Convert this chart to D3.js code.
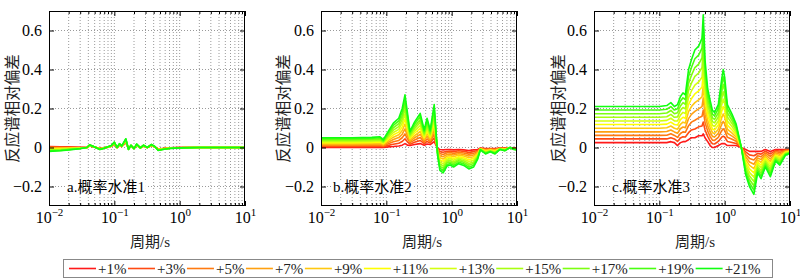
<!DOCTYPE html>
<html><head><meta charset="utf-8">
<script src="https://cdn.jsdelivr.net/npm/d3@7/dist/d3.min.js"></script>
<style>body{margin:0;background:#fff}</style>
</head><body><svg id="chart" width="800" height="279"></svg>
<script>
// ---------- data ----------
const seriesNames = ["+1%","+3%","+5%","+7%","+9%","+11%","+13%","+15%","+17%","+19%","+21%"];
const colors = ["#ff1a1a","#ff4a12","#ff7a10","#ffa010","#ffc810","#ffff00","#d4ff10","#a8ff10","#7cff10","#48ff10","#10ff10"];

const xTicks = [0.01, 0.1, 1, 10];
const xTickExp = ["\u22122", "\u22121", "0", "1"];
const yTicks = [-0.2, 0, 0.2, 0.4, 0.6];
const panelLabels = ["a.概率水准1", "b.概率水准2", "c.概率水准3"];
const yLabelText = "反应谱相对偏差";
const xLabelText = "周期/s";

// panel a
const periodsA = [0.01,0.015,0.02,0.03,0.038,0.042,0.05,0.06,0.07,0.08,0.09,0.1,0.11,0.12,0.13,0.15,0.165,0.18,0.2,0.22,0.25,0.28,0.32,0.37,0.42,0.47,0.55,0.7,1.0,2,4,10];
const a01 = [0.005,0.004,0.003,0.001,0,0.008,0.002,-0.005,-0.002,0.002,0.006,0.016,0,0.012,0.005,0.025,-0.005,0.007,-0.003,0.01,-0.001,0.007,0,0.009,0.002,-0.008,-0.005,-0.002,0,0,0,0];
const a03 = [0.003,0.002,0.001,0,0,0.009,0.002,-0.006,-0.002,0.002,0.006,0.017,0,0.013,0.005,0.027,-0.006,0.008,-0.003,0.011,-0.001,0.008,0,0.01,0.002,-0.009,-0.006,-0.002,0,0,0,0];
const a05 = [0,0,0,0,0,0.009,0.002,-0.006,-0.002,0.002,0.007,0.018,0,0.014,0.006,0.029,-0.006,0.008,-0.004,0.012,-0.001,0.008,0,0.01,0.002,-0.009,-0.006,-0.003,0,0,0,0];
const a07 = [-0.003,-0.002,-0.002,-0.001,0,0.01,0.002,-0.007,-0.003,0.003,0.007,0.02,0,0.014,0.006,0.031,-0.007,0.009,-0.004,0.012,-0.001,0.009,0,0.011,0.003,-0.01,-0.007,-0.003,-0.001,0,0,0];
const a09 = [-0.005,-0.004,-0.003,-0.002,0,0.01,0.002,-0.007,-0.003,0.003,0.008,0.021,0,0.015,0.006,0.033,-0.007,0.009,-0.004,0.013,-0.001,0.009,0,0.012,0.003,-0.011,-0.007,-0.003,-0.001,0,0,0];
const a11 = [-0.008,-0.007,-0.005,-0.003,0,0.011,0.003,-0.008,-0.003,0.003,0.008,0.022,0,0.016,0.007,0.035,-0.008,0.01,-0.005,0.014,-0.002,0.01,0,0.013,0.003,-0.012,-0.008,-0.004,-0.001,0,0,0];
const a13 = [-0.01,-0.009,-0.007,-0.003,0,0.012,0.003,-0.008,-0.003,0.003,0.008,0.023,0,0.017,0.007,0.037,-0.008,0.01,-0.005,0.015,-0.002,0.01,0,0.013,0.003,-0.012,-0.008,-0.004,-0.001,0,0,0];
const a15 = [-0.013,-0.011,-0.008,-0.004,0,0.012,0.003,-0.009,-0.003,0.003,0.009,0.024,0,0.018,0.007,0.039,-0.009,0.011,-0.005,0.016,-0.002,0.011,0,0.014,0.003,-0.013,-0.009,-0.004,-0.001,0,0,0];
const a17 = [-0.015,-0.013,-0.01,-0.005,0,0.013,0.003,-0.009,-0.004,0.004,0.009,0.026,0,0.018,0.007,0.041,-0.009,0.011,-0.005,0.016,-0.002,0.011,0,0.015,0.004,-0.014,-0.009,-0.004,-0.002,0,0,0];
const a19 = [-0.018,-0.015,-0.011,-0.005,0,0.013,0.003,-0.01,-0.004,0.004,0.01,0.027,0,0.019,0.008,0.043,-0.01,0.012,-0.006,0.017,-0.002,0.012,0,0.015,0.004,-0.014,-0.01,-0.005,-0.002,0,0,0];
const a21 = [-0.02,-0.017,-0.013,-0.006,0,0.014,0.003,-0.01,-0.004,0.004,0.01,0.028,0,0.02,0.008,0.045,-0.01,0.012,-0.006,0.018,-0.002,0.012,0,0.016,0.004,-0.015,-0.01,-0.005,-0.002,0,0,0];

// panel b
const periodsB = [0.01,0.03,0.06,0.08,0.09,0.107,0.128,0.155,0.175,0.193,0.21,0.23,0.27,0.33,0.38,0.42,0.47,0.54,0.61,0.66,0.74,0.85,0.95,1.07,1.28,1.53,1.83,2.17,2.5,2.75,3.3,3.9,4.6,5.5,6.5,7.8,8.9,10];
const b01 = [0,0,0,0,0,0.003,0.005,0.008,0.012,0.02,0.012,0.01,0.015,0.02,0.012,0.018,0.015,0.03,-0.005,-0.01,-0.012,-0.01,-0.01,-0.012,-0.01,-0.012,-0.015,-0.012,-0.01,-0.003,-0.005,-0.005,-0.005,-0.003,-0.003,-0.002,-0.003,-0.003];
const b03 = [0.005,0.005,0.005,0.006,0.004,0.011,0.017,0.022,0.031,0.045,0.029,0.017,0.027,0.036,0.02,0.031,0.023,0.049,-0.009,-0.021,-0.024,-0.019,-0.018,-0.021,-0.017,-0.02,-0.025,-0.021,-0.015,-0.004,-0.008,-0.007,-0.008,-0.004,-0.004,-0.002,-0.004,-0.004];
const b05 = [0.01,0.01,0.01,0.011,0.008,0.019,0.029,0.036,0.05,0.07,0.046,0.025,0.038,0.051,0.028,0.044,0.03,0.068,-0.012,-0.031,-0.036,-0.027,-0.026,-0.03,-0.025,-0.028,-0.034,-0.03,-0.02,-0.005,-0.011,-0.008,-0.011,-0.004,-0.006,-0.002,-0.004,-0.005];
const b07 = [0.015,0.015,0.016,0.017,0.012,0.027,0.041,0.051,0.068,0.095,0.062,0.032,0.05,0.067,0.035,0.058,0.038,0.087,-0.016,-0.042,-0.047,-0.036,-0.034,-0.038,-0.032,-0.036,-0.044,-0.038,-0.025,-0.006,-0.013,-0.01,-0.013,-0.005,-0.007,-0.001,-0.005,-0.006];
const b09 = [0.02,0.02,0.021,0.022,0.016,0.035,0.053,0.065,0.087,0.12,0.079,0.039,0.061,0.082,0.043,0.071,0.045,0.106,-0.019,-0.053,-0.059,-0.044,-0.042,-0.047,-0.039,-0.044,-0.053,-0.047,-0.03,-0.007,-0.016,-0.012,-0.016,-0.006,-0.009,-0.001,-0.006,-0.007];
const b11 = [0.025,0.025,0.026,0.028,0.02,0.043,0.065,0.079,0.106,0.145,0.096,0.047,0.073,0.098,0.051,0.084,0.053,0.125,-0.023,-0.064,-0.071,-0.053,-0.05,-0.056,-0.047,-0.052,-0.063,-0.056,-0.035,-0.008,-0.019,-0.014,-0.019,-0.007,-0.01,-0.001,-0.007,-0.008];
const b13 = [0.03,0.03,0.031,0.033,0.024,0.051,0.077,0.093,0.125,0.17,0.113,0.054,0.084,0.113,0.059,0.097,0.06,0.144,-0.026,-0.074,-0.083,-0.061,-0.058,-0.065,-0.054,-0.06,-0.072,-0.065,-0.04,-0.008,-0.022,-0.015,-0.022,-0.007,-0.011,-0.001,-0.007,-0.008];
const b15 = [0.035,0.035,0.036,0.039,0.028,0.059,0.089,0.107,0.144,0.195,0.13,0.061,0.096,0.129,0.067,0.11,0.068,0.163,-0.03,-0.085,-0.095,-0.07,-0.066,-0.074,-0.061,-0.068,-0.082,-0.074,-0.045,-0.009,-0.025,-0.017,-0.025,-0.008,-0.013,-0.001,-0.008,-0.009];
const b17 = [0.04,0.04,0.042,0.044,0.032,0.067,0.101,0.122,0.162,0.22,0.146,0.068,0.107,0.144,0.074,0.124,0.075,0.182,-0.033,-0.096,-0.106,-0.078,-0.074,-0.082,-0.068,-0.076,-0.091,-0.082,-0.05,-0.01,-0.027,-0.019,-0.027,-0.009,-0.014,0,-0.009,-0.01];
const b19 = [0.045,0.045,0.047,0.05,0.036,0.075,0.113,0.136,0.181,0.245,0.163,0.076,0.119,0.16,0.082,0.137,0.083,0.201,-0.037,-0.106,-0.118,-0.087,-0.082,-0.091,-0.076,-0.084,-0.101,-0.091,-0.055,-0.011,-0.03,-0.02,-0.03,-0.009,-0.016,0,-0.009,-0.011];
const b21 = [0.05,0.05,0.052,0.055,0.04,0.083,0.125,0.15,0.2,0.27,0.18,0.083,0.13,0.175,0.09,0.15,0.09,0.22,-0.04,-0.117,-0.13,-0.095,-0.09,-0.1,-0.083,-0.092,-0.11,-0.1,-0.06,-0.012,-0.033,-0.022,-0.033,-0.01,-0.017,0,-0.01,-0.012];

// panel c
const periodsC = [0.01,0.05,0.1,0.13,0.15,0.17,0.19,0.21,0.23,0.25,0.28,0.31,0.35,0.4,0.45,0.47,0.5,0.55,0.6,0.65,0.7,0.8,0.9,0.95,1.0,1.1,1.3,1.5,1.8,2.1,2.4,2.8,3.2,3.6,4.2,5,6,7,8.5,10];
const c01 = [0.025,0.025,0.025,0.025,0.03,0.025,0.01,0.025,0.03,0.03,0.04,0.05,0.05,0.06,0.06,0.07,0.05,0.03,0.01,0,0,0.01,0.02,0.02,0.02,0.01,0.01,0.01,0,-0.01,-0.02,-0.02,-0.02,-0.02,-0.01,-0.02,-0.01,-0.01,-0.01,-0.01];
const c03 = [0.044,0.044,0.044,0.044,0.05,0.044,0.031,0.049,0.055,0.054,0.076,0.09,0.095,0.106,0.11,0.131,0.09,0.057,0.033,0.019,0.018,0.031,0.053,0.058,0.054,0.031,0.026,0.021,0,-0.023,-0.038,-0.042,-0.031,-0.034,-0.019,-0.033,-0.016,-0.018,-0.013,-0.012];
const c05 = [0.062,0.062,0.062,0.063,0.07,0.062,0.052,0.072,0.08,0.078,0.112,0.13,0.14,0.152,0.16,0.192,0.13,0.084,0.056,0.038,0.036,0.052,0.086,0.096,0.088,0.052,0.042,0.032,0,-0.036,-0.056,-0.064,-0.042,-0.048,-0.028,-0.046,-0.022,-0.026,-0.016,-0.014];
const c07 = [0.08,0.08,0.08,0.082,0.09,0.08,0.073,0.096,0.105,0.102,0.148,0.17,0.185,0.198,0.21,0.253,0.17,0.111,0.079,0.057,0.054,0.073,0.119,0.134,0.122,0.073,0.058,0.043,0,-0.049,-0.074,-0.086,-0.053,-0.062,-0.037,-0.059,-0.028,-0.034,-0.019,-0.016];
const c09 = [0.099,0.099,0.099,0.101,0.11,0.099,0.094,0.119,0.13,0.126,0.184,0.21,0.23,0.244,0.26,0.314,0.21,0.138,0.102,0.076,0.072,0.094,0.152,0.172,0.156,0.094,0.074,0.054,0,-0.062,-0.092,-0.108,-0.064,-0.076,-0.046,-0.072,-0.034,-0.042,-0.022,-0.018];
const c11 = [0.118,0.118,0.118,0.12,0.13,0.118,0.115,0.143,0.155,0.15,0.22,0.25,0.275,0.29,0.31,0.375,0.25,0.165,0.125,0.095,0.09,0.115,0.185,0.21,0.19,0.115,0.09,0.065,0,-0.075,-0.11,-0.13,-0.075,-0.09,-0.055,-0.085,-0.04,-0.05,-0.025,-0.02];
const c13 = [0.136,0.136,0.136,0.139,0.15,0.136,0.136,0.166,0.18,0.174,0.256,0.29,0.32,0.336,0.36,0.436,0.29,0.192,0.148,0.114,0.108,0.136,0.218,0.248,0.224,0.136,0.106,0.076,0,-0.088,-0.128,-0.152,-0.086,-0.104,-0.064,-0.098,-0.046,-0.058,-0.028,-0.022];
const c15 = [0.155,0.155,0.155,0.158,0.17,0.155,0.157,0.19,0.205,0.198,0.292,0.33,0.365,0.382,0.41,0.497,0.33,0.219,0.171,0.133,0.126,0.157,0.251,0.286,0.258,0.157,0.122,0.087,0,-0.101,-0.146,-0.174,-0.097,-0.118,-0.073,-0.111,-0.052,-0.066,-0.031,-0.024];
const c17 = [0.173,0.173,0.173,0.177,0.19,0.173,0.178,0.213,0.23,0.222,0.328,0.37,0.41,0.428,0.46,0.558,0.37,0.246,0.194,0.152,0.144,0.178,0.284,0.324,0.292,0.178,0.138,0.098,0,-0.114,-0.164,-0.196,-0.108,-0.132,-0.082,-0.124,-0.058,-0.074,-0.034,-0.026];
const c19 = [0.192,0.192,0.192,0.196,0.21,0.192,0.199,0.237,0.255,0.246,0.364,0.41,0.455,0.474,0.51,0.619,0.41,0.273,0.217,0.171,0.162,0.199,0.317,0.362,0.326,0.199,0.154,0.109,0,-0.127,-0.182,-0.218,-0.119,-0.146,-0.091,-0.137,-0.064,-0.082,-0.037,-0.028];
const c21 = [0.21,0.21,0.21,0.215,0.23,0.21,0.22,0.26,0.28,0.27,0.4,0.45,0.5,0.52,0.56,0.68,0.45,0.3,0.24,0.19,0.18,0.22,0.35,0.4,0.36,0.22,0.17,0.12,0,-0.14,-0.2,-0.24,-0.13,-0.16,-0.1,-0.15,-0.07,-0.09,-0.04,-0.03];

const seriesA = [a01,a03,a05,a07,a09,a11,a13,a15,a17,a19,a21];
const seriesB = [b01,b03,b05,b07,b09,b11,b13,b15,b17,b19,b21];
const seriesC = [c01,c03,c05,c07,c09,c11,c13,c15,c17,c19,c21];

// ---------- layout ----------
const serif = "'Liberation Serif','Times New Roman',serif";
const mixed = "'Liberation Serif','Noto Sans CJK SC',serif";
const cjk = "'Noto Sans CJK SC',sans-serif";
const plotTop = 11, plotBottom = 206, plotW = 196;
const panels = [
  {left: 49,  periods: periodsA, series: seriesA, label: panelLabels[0], labelDx: 18, yLabX: 18},
  {left: 321, periods: periodsB, series: seriesB, label: panelLabels[1], labelDx: 12, yLabX: 289},
  {left: 594, periods: periodsC, series: seriesC, label: panelLabels[2], labelDx: 18, yLabX: 564}
];

const svg = d3.select("#chart");
svg.append("rect").attr("width", 800).attr("height", 279).attr("fill", "#fff");

const minorVals = [];
[0.01, 0.1, 1].forEach(dec => { for (let m = 2; m <= 9; m++) minorVals.push(m * dec); });
const gridX = minorVals.concat([0.1, 1]);

panels.forEach((p, pi) => {
  const x = d3.scaleLog().domain([0.01, 10]).range([p.left, p.left + plotW]);
  const y = d3.scaleLinear().domain([-0.3, 0.7]).range([plotBottom, plotTop]);
  const g = svg.append("g");

  // grid
  g.append("g").selectAll("line").data(gridX).join("line")
    .attr("x1", d => x(d)).attr("x2", d => x(d))
    .attr("y1", plotTop).attr("y2", plotBottom)
    .attr("stroke", "#9a9a9a").attr("stroke-width", 1).attr("stroke-dasharray", "1,2");
  g.append("g").selectAll("line").data(yTicks).join("line")
    .attr("x1", p.left).attr("x2", p.left + plotW)
    .attr("y1", d => y(d)).attr("y2", d => y(d))
    .attr("stroke", "#9a9a9a").attr("stroke-width", 1).attr("stroke-dasharray", "1,2");

  // lines
  const clipId = "clip" + pi;
  svg.append("clipPath").attr("id", clipId).append("rect")
    .attr("x", p.left).attr("y", plotTop).attr("width", plotW).attr("height", plotBottom - plotTop);
  const line = d3.line().x((d, i) => x(p.periods[i])).y(d => y(d));
  g.append("g").attr("clip-path", `url(#${clipId})`)
    .selectAll("path").data(p.series).join("path")
    .attr("d", d => line(d))
    .attr("fill", "none")
    .attr("stroke", (d, i) => colors[i])
    .attr("stroke-width", 1.6)
    .attr("stroke-linejoin", "round");

  // panel label with white background
  const labG = g.append("g");
  const labBg = labG.append("rect").attr("fill", "#fff");
  const lab = labG.append("text").attr("x", p.left + p.labelDx).attr("y", 192)
    .style("font-family", mixed).style("font-size", "15px").attr("fill", "#000").text(p.label);
  const bb = lab.node().getBBox();
  labBg.attr("x", bb.x - 1).attr("y", bb.y + 1).attr("width", bb.width + 2).attr("height", bb.height - 2);

  // axes (ticks inward)
  const styleAxis = sel => { sel.select(".domain").remove(); sel.selectAll(".tick line").attr("stroke", "#000"); };
  g.append("g").attr("transform", `translate(0,${plotBottom})`)
    .call(d3.axisBottom(x).tickValues(minorVals).tickSize(-3).tickFormat(() => "")).call(styleAxis);
  g.append("g").attr("transform", `translate(0,${plotTop})`)
    .call(d3.axisTop(x).tickValues(minorVals).tickSize(-3).tickFormat(() => "")).call(styleAxis);
  g.append("g").attr("transform", `translate(0,${plotTop})`)
    .call(d3.axisTop(x).tickValues(xTicks).tickSize(-5).tickFormat(() => "")).call(styleAxis);
  const xb = g.append("g").attr("transform", `translate(0,${plotBottom})`)
    .call(d3.axisBottom(x).tickValues(xTicks).tickSize(-5).tickFormat(() => "")).call(styleAxis);
  xb.selectAll(".tick text").remove();
  xb.selectAll(".tick").each(function(d, i) {
    const t = d3.select(this).append("text")
      .attr("y", 17).attr("fill", "#000")
      .attr("text-anchor", "middle")
      .style("font-family", serif).style("font-size", "16px");
    t.append("tspan").text("10");
    t.append("tspan").attr("dy", -7).style("font-size", "11px").text(xTickExp[i]);
  });

  const yl = g.append("g").attr("transform", `translate(${p.left},0)`)
    .call(d3.axisLeft(y).tickValues(yTicks).tickSize(-5).tickPadding(7)
      .tickFormat(d => d === 0 ? "0" : d3.format(".1f")(d).replace("-", "\u2212")))
    .call(styleAxis);
  yl.selectAll(".tick text").attr("fill", "#000").style("font-family", serif).style("font-size", "16px");
  g.append("g").attr("transform", `translate(${p.left + plotW},0)`)
    .call(d3.axisRight(y).tickValues(yTicks).tickSize(-5).tickFormat(() => "")).call(styleAxis);

  // frame
  g.append("rect").attr("x", p.left + 0.5).attr("y", plotTop + 0.5)
    .attr("width", plotW - 1).attr("height", plotBottom - plotTop - 1)
    .attr("fill", "none").attr("stroke", "#000").attr("stroke-width", 1);

  // axis titles
  g.append("text").attr("transform", `translate(${p.yLabX},${(plotTop + plotBottom) / 2}) rotate(-90)`)
    .attr("text-anchor", "middle").style("font-family", cjk).style("font-size", "15.5px")
    .attr("fill", "#222").text(yLabelText);
  g.append("text").attr("x", p.left + plotW / 2 + 3).attr("y", 247)
    .attr("text-anchor", "middle").style("font-family", mixed).style("font-size", "15px")
    .attr("fill", "#222").text(xLabelText);
});

// ---------- legend ----------
const leg = svg.append("g");
leg.append("rect").attr("x", 63.5).attr("y", 259.5).attr("width", 709).attr("height", 18)
  .attr("fill", "#fff").attr("stroke", "#888").attr("stroke-width", 1);
let lx = 69;
seriesNames.forEach((name, i) => {
  leg.append("line").attr("x1", lx).attr("x2", lx + 27).attr("y1", 268.5).attr("y2", 268.5)
    .attr("stroke", colors[i]).attr("stroke-width", 1.6);
  const t = leg.append("text").attr("x", lx + 29).attr("y", 274)
    .style("font-family", serif).style("font-size", "15px").attr("fill", "#222").text(name);
  lx = lx + 29 + t.node().getComputedTextLength() + 1.5;
});
</script>
</body></html>
